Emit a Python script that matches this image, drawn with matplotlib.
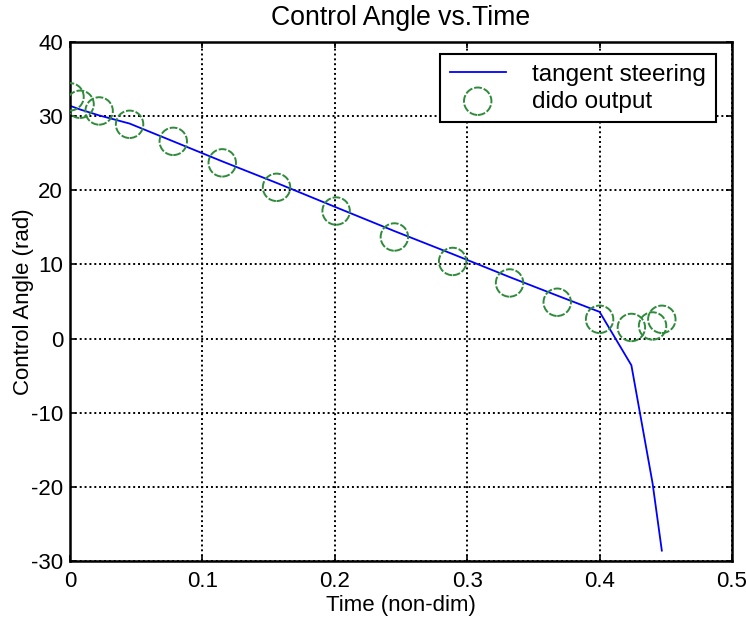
import matplotlib.pyplot as plt

# Data
t_dido = [0.0, 0.0076, 0.022, 0.045, 0.078, 0.115, 0.156, 0.201, 0.245, 0.289,
          0.332, 0.368, 0.400, 0.424, 0.440, 0.447]
ang_dido = [32.6, 31.6, 30.7, 28.9, 26.6, 23.7, 20.4, 17.2, 13.7, 10.4,
            7.5, 4.9, 2.6, 1.5, 1.7, 2.6]
ang_tangent = [31.4, 30.9, 30.1, 29.0, 26.6, 23.9, 21.0, 17.7, 14.5, 11.4,
               8.3, 5.8, 3.6, -3.6, -19.5, -28.6]

plt.rcParams['font.family'] = ['Liberation Sans', 'DejaVu Sans']
plt.rcParams['font.size'] = 16
plt.rcParams['axes.unicode_minus'] = False

fig = plt.figure(figsize=(7.46, 6.24), dpi=100)
ax = fig.add_axes([70 / 746, 1 - 561 / 624, 662 / 746, 519 / 624])

ax.plot(t_dido, ang_tangent, color='blue', lw=1.3, label='tangent steering')
ax.scatter(t_dido, ang_dido, s=390, facecolors='none', edgecolors='#2e8b3a',
           linewidths=1.4, linestyles=[(0, (4, 1))], label='dido output', zorder=3)

ax.set_xlim(0, 0.5)
ax.set_ylim(-30, 40)
ax.set_xticks([0, 0.1, 0.2, 0.3, 0.4, 0.5])
ax.set_xticklabels(['0', '0.1', '0.2', '0.3', '0.4', '0.5'])
ax.set_yticks(range(-30, 41, 10))

ax.grid(True, color='black', linestyle=(0, (1, 1.5)), linewidth=1.4)
ax.tick_params(direction='in', length=4, width=1.2, top=True, right=True,
               colors='black')
ax.tick_params(axis='x', pad=7)
ax.tick_params(axis='y', pad=5)
for sp in ax.spines.values():
    sp.set_linewidth(1.8)

ax.set_title('Control Angle vs.Time', pad=12)
ax.set_xlabel('Time (non-dim)', labelpad=2)
ax.set_ylabel('Control Angle (rad)')
ax.yaxis.set_label_coords(-0.055, 0.5)

leg = ax.legend(loc='upper right', bbox_to_anchor=(716 / 746, 1 - 54 / 624),
                bbox_transform=fig.transFigure, fancybox=False, framealpha=1,
                edgecolor='black', borderaxespad=0, handlelength=2.3,
                handletextpad=1.1, scatterpoints=1, borderpad=0.4,
                labelspacing=0.2, fontsize=17.5)
leg.get_frame().set_linewidth(1.5)

fig.savefig('out.png', dpi=100)
